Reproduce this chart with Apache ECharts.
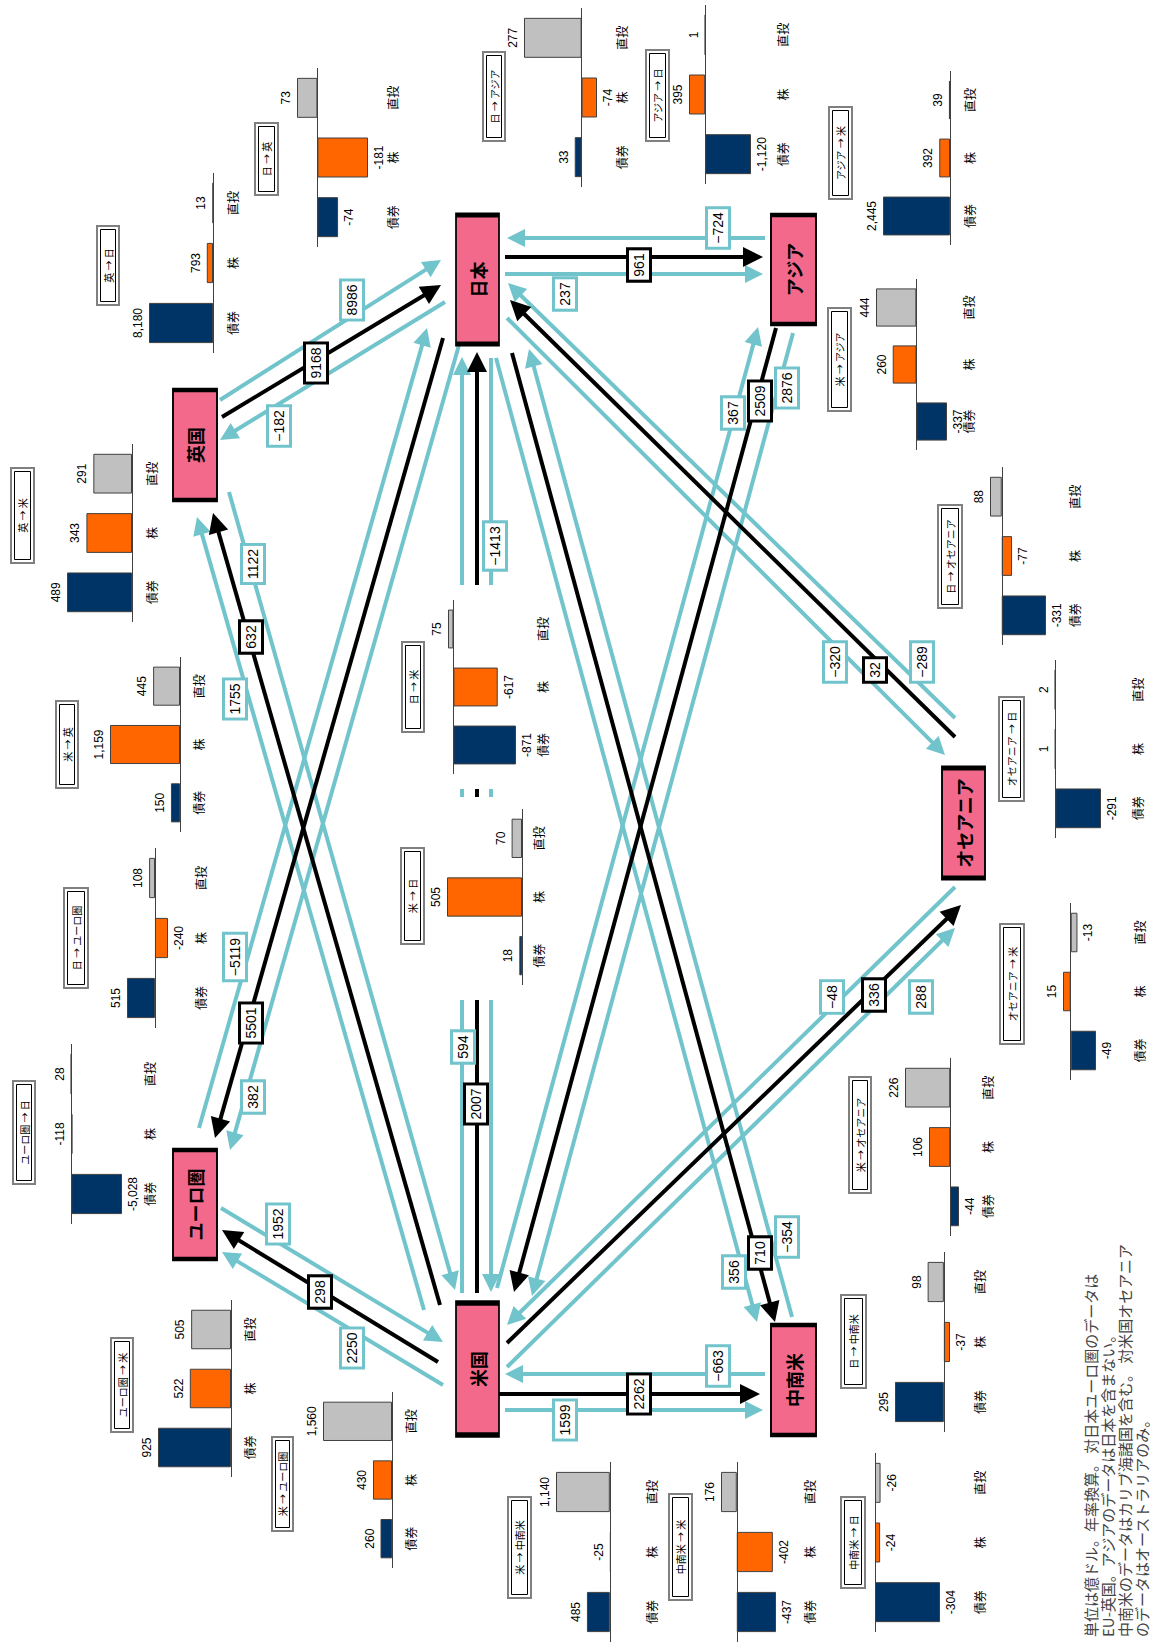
<!DOCTYPE html>
<html>
<head>
<meta charset="utf-8">
<title>資本フロー</title>
<script src="https://cdn.jsdelivr.net/npm/echarts@6.0.0/dist/echarts.min.js"></script>
<style>
  html, body { margin: 0; padding: 0; overflow: hidden; background: #fff; }
  /* the chart is laid out landscape and turned a quarter left, like the printed page */
  #chart { position: absolute; left: 0; top: 0; width: 1642px; height: 1153px;
           transform-origin: 0 0; transform: translate(0, 1642px) rotate(-90deg); }
</style>
</head>
<body>
<div id="chart"></div>
<script>
// ---- data (億ドル, 年率) ----
const nodeNames = ['日本', 'アジア', '英国', 'ユーロ圏', '米国', '中南米', 'オセアニア'];
const categories = ['債券', '株', '直投'];

const flowTitles = ['英 → 日', '日 → 英', '日 → アジア', 'アジア → 日', 'アジア → 米', '米 → アジア',
  '日 → オセアニア', 'オセアニア → 日', '日 → 米', '米 → 日', '日 → ユーロ圏', 'ユーロ圏 → 日',
  '英 → 米', '米 → 英', 'オセアニア → 米', '米 → オセアニア', 'ユーロ圏 → 米', '米 → ユーロ圏',
  '米 → 中南米', '中南米 → 米', '日 → 中南米', '中南米 → 日'];
const bonds  = [8180, -74, 33, -1120, 2445, -337, -331, -291, -871, 18, 515, -5028, 489, 150, -49, -44, 925, 260, 485, -437, 295, -304];
const stocks = [793, -181, -74, 395, 392, 260, -77, 1, -617, 505, -240, -118, 343, 1159, 15, 106, 522, 430, -25, -402, -37, -24];
const fdi    = [13, 73, 277, 1, 39, 444, 88, 2, 75, 70, 108, 28, 291, 445, -13, 226, 505, 1560, 1140, 176, 98, -26];

// arrows: net flow (black) and the two gross flows (blue) of each pair
const pairFrom  = ['英国', '日本', '米国', '米国', '日本', '米国', '米国', '日本', 'オセアニア', '米国', 'アジア'];
const pairTo    = ['日本', 'アジア', '日本', '英国', 'ユーロ圏', 'ユーロ圏', '中南米', '中南米', '日本', 'オセアニア', '米国'];
const netFlow   = [9168, 961, 2007, 632, 5501, 298, 2262, 710, 32, 336, 2509];
const grossOut  = [8986, 237, 594, 1755, 382, 2250, 1599, 356, -289, 288, 2876];   // from -> to
const grossBack = [-182, -724, -1413, 1122, -5119, 1952, -663, -354, -320, -48, 367]; // to -> from

const noteLines = ['単位は億ドル。年率換算。 対日本ユーロ圏のデータは',
  'EU-英国。アジアのデータは日本を含まない。',
  '中南米のデータはカリブ海諸国を含む。 対米国オセアニア',
  'のデータはオーストラリアのみ。'];

// ---- layout, measured on the printed (turned) page: [px, py] ----
const W = 1642, H = 1153;
const turn = p => [W - p[1], p[0]];

// node boxes: [px1, px2, py1, py2]
const nodeBoxes = [[456, 499, 215, 344], [771, 816, 215, 324], [173, 217, 390, 500], [173, 217, 1150, 1259],
  [456, 499, 1303, 1435], [771, 816, 1325, 1435], [942, 985, 768, 878]];

// small charts: [py1, py2, topPx, bottomPx, labelPx, titlePx1, titlePx2, titlePy1, titlePy2]
const chartBoxes = [
  [173, 353, 149, 213, 233, 97, 119, 226, 305],
  [68, 247, 297, 368, 393, 255, 278, 123, 195],
  [8, 187, 524, 597, 622, 483, 505, 52, 141],
  [5, 184, 689, 751, 783, 646, 669, 50, 141],
  [71, 245, 883, 950, 970, 829, 852, 107, 199],
  [279, 450, 876, 947, 969, 828, 851, 308, 411],
  [467, 645, 990, 1046, 1075, 938, 962, 505, 608],
  [660, 838, 1055, 1101, 1138, 999, 1024, 697, 801],
  [600, 774, 448, 516, 543, 402, 424, 642, 732],
  [809, 985, 447, 522, 539, 401, 424, 848, 944],
  [848, 1028, 127, 168, 201, 64, 88, 888, 988],
  [1044, 1224, 71, 122, 150, 13, 35, 1081, 1184],
  [444, 622, 67, 132, 152, 11, 34, 468, 563],
  [657, 832, 110, 180, 199, 56, 78, 701, 788],
  [903, 1080, 1063, 1096, 1140, 1000, 1024, 924, 1044],
  [1058, 1236, 905, 959, 988, 849, 871, 1077, 1193],
  [1300, 1477, 158, 231, 250, 111, 133, 1338, 1432],
  [1392, 1568, 323, 392, 411, 272, 293, 1437, 1531],
  [1462, 1642, 556, 611, 652, 508, 531, 1497, 1598],
  [1462, 1642, 721, 776, 810, 669, 692, 1494, 1600],
  [1252, 1432, 895, 950, 980, 841, 866, 1295, 1388],
  [1453, 1632, 875, 940, 980, 841, 865, 1497, 1588]
];

// arrow tails / tips and label spots
const pairLayout = [
  { net: [[222, 417], [441, 285]], out: [[220, 400], [441, 260]], back: [[445, 302], [220, 440]], netL: [316, 363], outL: [352, 300], backL: [279, 426] },
  { net: [[505, 257], [763, 257]], out: [[505, 274], [763, 274]], back: [[765, 238], [507, 238]], netL: [639, 265], outL: [565, 294], backL: [718, 228] },
  { net: [[477, 1293], [477, 352]], out: [[462, 1293], [462, 357]], back: [[491, 358], [491, 1292]], netL: [476, 1104], outL: [463, 1047], backL: [495, 546], gaps: [[585, 789], [797, 1000]] },
  { net: [[440, 1305], [213, 513]], out: [[424, 1310], [197, 517]], back: [[229, 492], [455, 1290]], netL: [251, 637], outL: [235, 699], backL: [253, 564] },
  { net: [[443, 338], [215, 1138]], out: [[459, 345], [230, 1150]], back: [[199, 1128], [427, 328]], netL: [251, 1023], outL: [253, 1097], backL: [235, 957] },
  { net: [[438, 1362], [222, 1230]], out: [[443, 1385], [222, 1252]], back: [[221, 1208], [443, 1342]], netL: [320, 1292], outL: [352, 1348], backL: [278, 1224] },
  { net: [[499, 1394], [760, 1394]], out: [[505, 1410], [763, 1410]], back: [[765, 1374], [505, 1374]], netL: [639, 1394], outL: [565, 1420], backL: [718, 1366] },
  { net: [[512, 353], [775, 1322]], out: [[496, 358], [757, 1322]], back: [[792, 1317], [529, 349]], netL: [760, 1253], outL: [734, 1272], backL: [787, 1237] },
  { net: [[955, 737], [510, 300]], out: [[955, 718], [508, 283]], back: [[507, 318], [945, 755]], netL: [875, 670], outL: [922, 662], backL: [835, 662] },
  { net: [[507, 1343], [961, 905]], out: [[507, 1367], [955, 928]], back: [[955, 887], [507, 1325]], netL: [874, 995], outL: [921, 997], backL: [832, 997] },
  { net: [[776, 328], [514, 1292]], out: [[793, 333], [532, 1296]], back: [[497, 1288], [758, 327]], netL: [760, 401], outL: [787, 388], backL: [733, 413] }
];

// ---- styles ----
const FONT = "'Liberation Sans', 'Noto Sans CJK JP', sans-serif";
const JP = "'Noto Sans CJK JP', sans-serif";
const BLUE = '#72C4CC';
const PINK = '#F2698B';
const barColors = ['#003366', '#FF6600', '#C0C0C0'];

const fmt = v => (v < 0 ? '-' : '') + String(Math.abs(v)).replace(/\B(?=(\d{3})+(?!\d))/g, ',');
const signed = v => (v < 0 ? '\u2212' : '') + Math.abs(v);

// ---- arrows ----
const arrows = { blue: [], black: [] };
const plains = { blue: [], black: [] };
const tags = { blue: [], black: [] };

function splitByGaps(a, b, gaps) {
  const dir = Math.sign(b[1] - a[1]);
  const cuts = gaps.flat().sort((u, v) => (u - v) * dir);
  const pts = [a[1], ...cuts, b[1]];
  const segs = [];
  for (let i = 0; i < pts.length; i += 2) segs.push([[a[0], pts[i]], [a[0], pts[i + 1]]]);
  return segs;
}

function addLine(color, tail, tip, text, at, gaps) {
  const segs = gaps ? splitByGaps(tail, tip, gaps) : [[tail, tip]];
  const size = color === 'black' ? 20 : 18;
  segs.forEach((s, k) => {
    const a = turn(s[0]), b = turn(s[1]);
    if (k < segs.length - 1) { plains[color].push({ coords: [a, b] }); return; }
    const len = Math.hypot(b[0] - a[0], b[1] - a[1]);
    const e = [b[0] - (b[0] - a[0]) / len * size / 2, b[1] - (b[1] - a[1]) / len * size / 2];
    arrows[color].push({ coords: [a, e] });
  });
  tags[color].push({ name: text, value: turn(at) });
}

pairLayout.forEach((L, i) => {
  addLine('black', L.net[0], L.net[1], String(netFlow[i]), L.netL, L.gaps);
  addLine('blue', L.out[0], L.out[1], signed(grossOut[i]), L.outL, L.gaps);
  addLine('blue', L.back[0], L.back[1], signed(grossBack[i]), L.backL, L.gaps);
});

const lineSeries = (data, color, size, arrow) => ({
  type: 'lines', coordinateSystem: 'cartesian2d', xAxisIndex: 0, yAxisIndex: 0, silent: true, z: 2,
  symbol: arrow ? ['none', 'triangle'] : 'none', symbolSize: size,
  lineStyle: { color: color, width: 4, opacity: 1, curveness: 0 },
  data: data
});

// number boxes sit on their own layer above the arrows
const tagSeries = (data, border) => ({
  type: 'scatter', xAxisIndex: 0, yAxisIndex: 0, silent: true, zlevel: 1, z: 4, symbolSize: 1,
  itemStyle: { color: 'rgba(255,255,255,0)', opacity: 1 },
  label: {
    show: true, position: 'inside', formatter: '{b}', fontSize: 14, lineHeight: 16, color: '#000', opacity: 1,
    fontFamily: FONT, backgroundColor: '#ffffff', borderColor: border, borderWidth: 3, padding: [2, 3],
    textBorderWidth: 0
  },
  data: data
});

const grid = [{ left: 0, top: 0, width: W, height: H, outerBoundsMode: 'none' }];
const xAxis = [{ type: 'value', min: 0, max: W, show: false }];
const yAxis = [{ type: 'value', min: 0, max: H, inverse: true, show: false }];
const series = [
  lineSeries(plains.blue, BLUE, 18, false),
  lineSeries(plains.black, '#000', 20, false),
  lineSeries(arrows.blue, BLUE, 18, true),
  lineSeries(arrows.black, '#000', 20, true),
  {
    type: 'scatter', xAxisIndex: 0, yAxisIndex: 0, silent: true, zlevel: 1, z: 3, symbol: 'rect',
    itemStyle: { color: PINK, borderColor: '#000', borderWidth: 3, opacity: 1 },
    label: { show: true, position: 'inside', formatter: '{b}', fontSize: 18, fontWeight: 'bold', color: '#000', fontFamily: JP, textBorderWidth: 0 },
    data: nodeNames.map((n, i) => {
      const b = nodeBoxes[i];
      return { name: n, value: [W - (b[2] + b[3]) / 2, (b[0] + b[1]) / 2], symbolSize: [b[3] - b[2], b[1] - b[0]] };
    })
  },
  tagSeries(tags.blue, BLUE),
  tagSeries(tags.black, '#000')
];
const graphic = [];

// ---- small bar charts ----
flowTitles.forEach((title, i) => {
  const c = chartBoxes[i], gi = i + 1;
  const vals = [bonds[i], stocks[i], fdi[i]];
  const lo = Math.min(0, ...vals), hi = Math.max(0, ...vals);
  grid.push({ left: W - c[1], top: c[2], width: c[1] - c[0], height: c[3] - c[2], outerBoundsMode: 'none' });
  xAxis.push({
    type: 'category', gridIndex: gi, data: categories,
    axisLine: { show: false, onZero: false }, axisTick: { show: false }, splitLine: { show: false },
    axisLabel: { margin: c[4] - c[3] - 7, fontSize: 12, color: '#000', fontFamily: JP, interval: 0 }
  });
  yAxis.push({ type: 'value', gridIndex: gi, min: lo, max: hi, show: false });
  series.push({
    type: 'bar', xAxisIndex: gi, yAxisIndex: gi, silent: true, barWidth: '67%',
    itemStyle: { borderColor: '#404040', borderWidth: 1 },
    label: { show: true, fontSize: 12, color: '#000', fontFamily: FONT, distance: 5, formatter: p => fmt(p.value) },
    data: vals.map((v, k) => ({
      value: v,
      itemStyle: { color: barColors[k] },
      label: { position: (v >= 0 || -v < 0.03 * (hi - lo)) ? 'top' : 'bottom' }
    })),
    markLine: {
      silent: true, symbol: 'none', animation: false, label: { show: false },
      lineStyle: { color: '#404040', width: 1, type: 'solid' }, data: [{ yAxis: 0 }]
    }
  });

  const x = W - c[8], y = c[5], w = c[8] - c[7], h = c[6] - c[5];
  graphic.push({
    type: 'group', silent: true, children: [
      { type: 'rect', z: 10, shape: { x: x, y: y, width: w, height: h }, style: { fill: '#fff', stroke: '#808080', lineWidth: 2 } },
      { type: 'rect', z: 10, shape: { x: x + 3.5, y: y + 3.5, width: w - 7, height: h - 7 }, style: { fill: 'none', stroke: '#000', lineWidth: 1 } },
      { type: 'text', z: 11, x: x + w / 2, y: y + h / 2,
        style: { text: title, fontSize: 10, fontFamily: JP, fill: '#000', align: 'center', verticalAlign: 'middle' } }
    ]
  });
});

// footnote, kept fully inside the page
graphic.push({
  type: 'text', z: 10, silent: true, x: 5, y: 1082,
  style: { text: noteLines.join('\n'), fontSize: 15, lineHeight: 17, fontFamily: JP, fill: '#444', verticalAlign: 'top' }
});

const chart = echarts.init(document.getElementById('chart'), null, { renderer: 'svg' });
chart.setOption({
  backgroundColor: '#fff',
  animation: false,
  textStyle: { fontFamily: FONT },
  grid: grid,
  xAxis: xAxis,
  yAxis: yAxis,
  series: series,
  graphic: graphic
});
</script>
</body>
</html>
